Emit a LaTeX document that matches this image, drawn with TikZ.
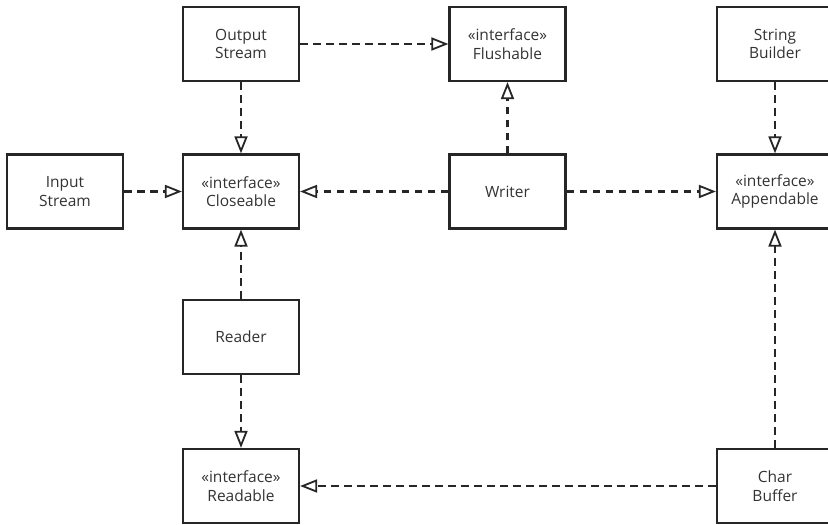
\documentclass[tikz,border=0pt]{standalone}
\usepackage{fontspec}
\setmainfont{Open Sans}
\usetikzlibrary{arrows.meta}
\begin{document}
\begin{tikzpicture}[x=1pt,y=-1pt,
  cls/.style={draw=black!85, line width=2.2pt, minimum width=116pt, minimum height=74pt, align=center, inner sep=0pt, font=\fontsize{15.5}{18.5}\selectfont, text=black!80},
  real/.style={draw=black!85, line width=2.2pt, dash pattern=on 7.5pt off 5.5pt, -{Triangle[open, length=17pt, width=13pt, line width=1.8pt]}}]
\useasboundingbox (0,0) rectangle (828,525);
\node[cls] (os) at (241,44) {Output\\Stream};
\node[cls] (fl) at (507.5,44) {«interface»\\Flushable};
\node[cls] (sb) at (775,44) {String\\Builder};
\node[cls] (is) at (65,191.5) {Input\\Stream};
\node[cls] (cl) at (241,191.5) {«interface»\\Closeable};
\node[cls] (wr) at (507.5,191.5) {Writer};
\node[cls] (ap) at (775,191.5) {«interface»\\Appendable};
\node[cls] (rd) at (241,337) {Reader};
\node[cls] (ra) at (241,486) {«interface»\\Readable};
\node[cls] (cb) at (775,486) {Char\\Buffer};
\draw[real] (os) -- (fl);
\draw[real] (os) -- (cl);
\draw[real] (is) -- (cl);
\draw[real] (wr) -- (cl);
\draw[real] (wr) -- (fl);
\draw[real] (wr) -- (ap);
\draw[real] (sb) -- (ap);
\draw[real] (rd) -- (cl);
\draw[real] (rd) -- (ra);
\draw[real] (cb) -- (ra);
\draw[real] (cb) -- (ap);
\end{tikzpicture}
\end{document}
